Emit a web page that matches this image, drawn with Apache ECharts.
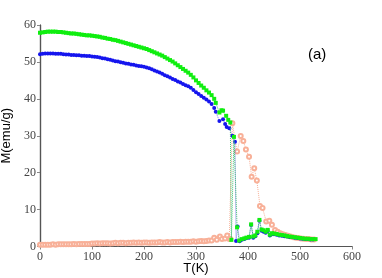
<!DOCTYPE html>
<html><head><meta charset="utf-8">
<script src="https://cdn.jsdelivr.net/npm/echarts@6/dist/echarts.min.js"></script>
<style>html,body{margin:0;padding:0;background:#fff}#c{width:382px;height:278px}</style>
</head><body><div id="c"></div>
<script>
// Green series (upper curve)
const greenT = [0,5,10,15,20,25,30,35,40,45,50,55,60,65,70,75,80,85,90,95,100,105,110,115,120,125,130,135,140,145,150,155,160,165,170,175,180,185,190,195,200,205,210,215,220,225,230,235,240,245,250,255,260,265,270,275,280,285,290,295,300,305,310,315,320,325,330,335,338,345,349,352,358,362,366,368,373,379,383,388,393,397,402,406,410,414,418,422,426,430,434,438,442,446,450,455,460,465,470,475,480,485,490,495,500,505,510,515,520,525,530];
const greenM = [57.9,58.0,58.1,58.2,58.2,58.2,58.2,58.1,58.1,58.0,57.9,57.8,57.7,57.7,57.6,57.5,57.4,57.3,57.2,57.2,57.1,57.0,56.9,56.8,56.6,56.5,56.3,56.2,56.0,55.9,55.7,55.5,55.3,55.1,54.9,54.7,54.5,54.3,54.1,53.9,53.7,53.5,53.2,52.9,52.6,52.3,52.0,51.7,51.3,50.9,50.5,50.1,49.6,49.1,48.6,48.1,47.6,47.1,46.5,45.8,45.0,44.3,43.6,43.0,42.3,41.7,41.0,40.0,38.9,36.3,36.9,36.8,35.4,34.3,33.6,1.8,29.7,5.2,1.6,2.0,2.2,2.4,2.6,6.0,2.7,3.0,4.0,7.2,4.6,4.4,4.0,4.5,3.2,3.6,3.5,3.4,3.2,3.1,3.0,2.8,2.7,2.6,2.5,2.4,2.3,2.2,2.1,2.1,2.0,2.0,2.0];
// Blue series (lower curve)
const blueT = [0,5,10,15,20,25,30,35,40,45,50,55,60,65,70,75,80,85,90,95,100,105,110,115,120,125,130,135,140,145,150,155,160,165,170,175,180,185,190,195,200,205,210,215,220,225,230,235,240,245,250,255,260,265,270,275,280,285,290,295,300,305,310,315,320,325,330,335,338,345,352,356,359,364,370,375,377,380,384,388,393,397,402,406,410,414,418,422,426,430,434,438,442,446,450,455,460,465,470,475,480,485,490,495,500,505,510,515,520,525];
const blueM = [52.1,52.2,52.3,52.3,52.3,52.3,52.2,52.2,52.2,52.1,52.0,52.0,51.9,51.9,51.8,51.8,51.7,51.7,51.6,51.6,51.5,51.4,51.3,51.2,51.0,50.9,50.7,50.6,50.4,50.2,50.1,49.9,49.8,49.6,49.5,49.3,49.2,49.0,48.9,48.8,48.7,48.5,48.3,48.0,47.7,47.4,47.1,46.8,46.4,46.1,45.8,45.4,45.1,44.7,44.4,44.0,43.7,43.4,43.0,42.4,41.8,41.3,40.8,40.3,39.8,39.3,38.6,37.5,36.5,34.0,34.5,33.2,32.4,32.0,30.0,28.4,1.5,5.4,1.4,1.8,2.0,2.3,2.4,5.8,2.4,2.8,3.6,7.0,4.3,4.0,3.7,4.2,3.0,3.3,3.3,3.2,3.0,2.9,2.8,2.7,2.6,2.5,2.4,2.3,2.2,2.1,2.0,2.0,1.9,1.9];
// Orange series (open circles)
const orangeT = [0,5,10,15,20,25,30,35,40,45,50,55,60,65,70,75,80,85,90,95,100,105,110,115,120,125,130,135,140,145,150,155,160,165,170,175,180,185,190,195,200,205,210,215,220,225,230,235,240,245,250,255,260,265,270,275,280,285,290,295,300,305,310,315,320,325,330,335,340,346,350,356,360,364,366,370,379,386,391,396,402,407,412,417,423,428,435,441,446,452,457,462,467,472,477,482,487,492,497,502,507,512,517,522,527];
const orangeM = [0.5,0.5,0.5,0.5,0.5,0.6,0.5,0.6,0.6,0.6,0.6,0.6,0.6,0.7,0.6,0.7,0.7,0.7,0.7,0.7,0.8,0.8,0.9,0.8,0.9,0.9,0.9,0.8,0.9,1.0,0.9,1.0,1.0,0.9,1.0,1.0,1.1,1.0,1.1,1.0,1.1,1.1,1.0,1.1,1.1,1.1,1.2,1.1,1.1,1.2,1.1,1.2,1.2,1.2,1.3,1.2,1.3,1.3,1.3,1.4,1.3,1.4,1.5,1.4,1.5,1.6,1.6,2.4,1.8,2.7,2.0,2.2,3.0,2.0,2.0,33.4,25.7,29.9,28.6,26.3,24.3,18.9,21.2,17.9,11.0,10.4,6.8,7.0,5.9,4.5,4.0,3.6,3.3,3.1,2.9,2.7,2.5,2.4,2.3,2.2,2.1,2.0,2.0,1.9,1.9];

const xTicks = [0,100,200,300,400,500,600];
const yTicks = [0,10,20,30,40,50,60];
const xTitle = 'T(K)';
const yTitle = 'M(emu/g)';
const panelLabel = '(a)';

const zip = (a,b) => a.map((v,i)=>[v,b[i]]);
const serif = 'Liberation Serif';
const axisCol = '#555';

const chart = echarts.init(document.getElementById('c'), null, {renderer:'canvas'});
chart.setOption({
  animation:false,
  backgroundColor:'#fff',
  grid:{left:40,right:30,top:25,bottom:31.5,containLabel:false,outerBoundsMode:'none'},
  xAxis:[{
    type:'value', min:xTicks[0], max:xTicks[xTicks.length-1], interval:100, position:'bottom',
    axisLine:{lineStyle:{color:axisCol,width:1.2}},
    axisTick:{show:false},
    axisLabel:{fontFamily:serif,fontSize:12,color:'#444',margin:4},
    splitLine:{show:false}
  },{
    type:'value', min:xTicks[0], max:xTicks[xTicks.length-1], interval:100, position:'top',
    axisLine:{show:true,lineStyle:{color:axisCol,width:1.2}},
    axisTick:{show:true,inside:true,length:3,lineStyle:{color:'#888'}},
    axisLabel:{show:false}, splitLine:{show:false}
  }],
  yAxis:[{
    type:'value', min:yTicks[0], max:yTicks[yTicks.length-1], interval:10, position:'left',
    name:yTitle, nameLocation:'middle', nameGap:20,
    nameTextStyle:{fontFamily:'Liberation Sans',fontSize:13,color:'#000'},
    axisLine:{show:true,lineStyle:{color:axisCol,width:1.2}},
    axisTick:{show:false},
    axisLabel:{fontFamily:serif,fontSize:12,color:'#444',margin:4},
    splitLine:{show:false}
  },{
    type:'value', min:yTicks[0], max:yTicks[yTicks.length-1], interval:10, position:'right',
    axisLine:{show:true,lineStyle:{color:axisCol,width:1.2}},
    axisTick:{show:true,inside:true,length:3,lineStyle:{color:'#888'}},
    axisLabel:{show:false}, splitLine:{show:false}
  }],
  graphic:[
    {type:'text',left:308,top:47,style:{text:panelLabel,font:'15px "Liberation Sans"',fill:'#000'}},
    {type:'text',x:196,y:268,style:{text:xTitle,font:'13px "Liberation Sans"',fill:'#000',align:'center',verticalAlign:'middle'}}
  ],
  series:[
    {type:'line',data:zip(orangeT,orangeM),symbol:'emptyCircle',symbolSize:4,
     itemStyle:{color:'#f8b098',borderColor:'#f8b098',borderWidth:1},
     lineStyle:{color:'#f8b098',width:1,type:'dotted'},z:2},
    {type:'line',data:zip(blueT,blueM),symbol:'circle',symbolSize:4,
     itemStyle:{color:'#1515ee'},
     lineStyle:{color:'#7a7aee',width:1,type:'dotted'},z:3},
    {type:'line',data:zip(greenT,greenM),symbol:'rect',symbolSize:4,
     itemStyle:{color:'#10ee10'},
     lineStyle:{color:'#40c070',width:1,type:'dotted'},z:4}
  ]
});
</script></body></html>
